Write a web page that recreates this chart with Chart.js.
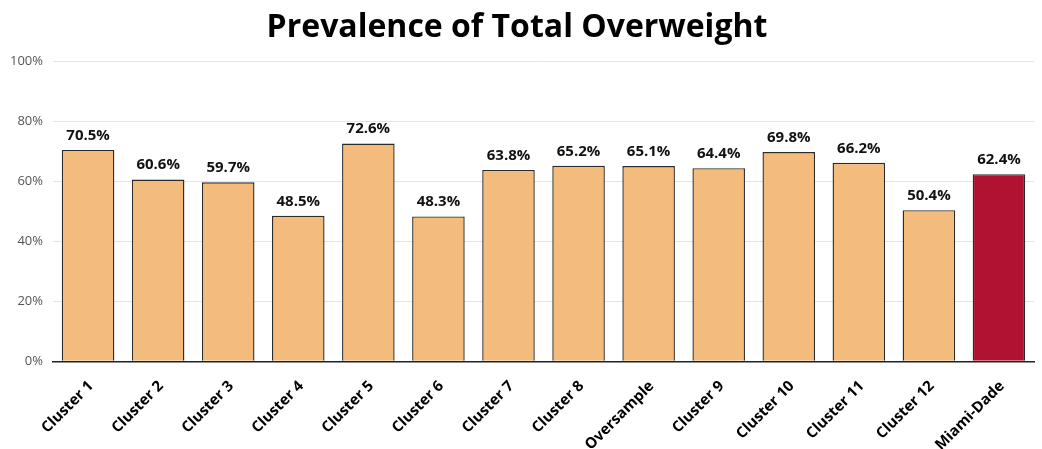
<!DOCTYPE html>
<html>
<head>
<meta charset="utf-8">
<script src="https://cdn.jsdelivr.net/npm/chart.js@4.4.0/dist/chart.umd.min.js"></script>
<style>
  html, body { margin: 0; padding: 0; background: #fff; }
  #wrap { width: 1042px; height: 449px; }
</style>
</head>
<body>
<div id="wrap"><canvas id="barChart"></canvas></div>
<script>
const categories = ['Cluster 1', 'Cluster 2', 'Cluster 3', 'Cluster 4', 'Cluster 5', 'Cluster 6', 'Cluster 7',
  'Cluster 8', 'Oversample', 'Cluster 9', 'Cluster 10', 'Cluster 11', 'Cluster 12', 'Miami-Dade'];
const prevalence = [70.5, 60.6, 59.7, 48.5, 72.6, 48.3, 63.8, 65.2, 65.1, 64.4, 69.8, 66.2, 50.4, 62.4];
const yTicks = [0, 20, 40, 60, 80, 100];

const FONT = "'Open Sans', 'Noto Sans', sans-serif";
const barColors = categories.map(c => c === 'Miami-Dade' ? '#B01232' : '#F3BC7C');

// draws the value above each bar
const valueLabels = {
  id: 'valueLabels',
  afterDatasetsDraw(chart) {
    const ctx = chart.ctx;
    const meta = chart.getDatasetMeta(0);
    ctx.save();
    ctx.font = 'bold 15px ' + FONT;
    ctx.fillStyle = '#111';
    ctx.textAlign = 'center';
    ctx.textBaseline = 'bottom';
    meta.data.forEach((bar, i) => {
      ctx.fillText(prevalence[i].toFixed(1) + '%', bar.x, bar.y - 7);
    });
    ctx.restore();
  }
};

new Chart(document.getElementById('barChart'), {
  type: 'bar',
  data: {
    labels: categories,
    datasets: [{
      data: prevalence,
      backgroundColor: barColors,
      borderColor: '#2b2b2b',
      borderWidth: 1.4,
      categoryPercentage: 1,
      barPercentage: 0.75
    }]
  },
  options: {
    responsive: true,
    maintainAspectRatio: false,
    animation: false,
    layout: { padding: { left: 0, right: 8, top: 0, bottom: -21 } },
    plugins: {
      legend: { display: false },
      tooltip: { enabled: false },
      title: {
        display: true,
        text: 'Prevalence of Total Overweight',
        color: '#000',
        font: { family: FONT, size: 32, weight: 'bold' },
        padding: { top: 9, bottom: 14 }
      }
    },
    scales: {
      x: {
        grid: { display: false, drawTicks: false },
        border: { color: '#222', width: 1.5 },
        ticks: {
          color: '#000',
          font: { family: FONT, size: 15, weight: 'bold' },
          maxRotation: 45,
          minRotation: 45,
          autoSkip: false,
          labelOffset: 3,
          padding: 16
        }
      },
      y: {
        min: 0,
        max: 100,
        afterBuildTicks: axis => { axis.ticks = yTicks.map(v => ({ value: v })); },
        grid: { color: '#e4e4e4', drawTicks: false },
        border: { display: false },
        ticks: {
          color: '#555',
          font: { family: FONT, size: 13 },
          padding: 10,
          callback: v => v + '%'
        }
      }
    }
  },
  plugins: [valueLabels]
});
</script>
</body>
</html>
